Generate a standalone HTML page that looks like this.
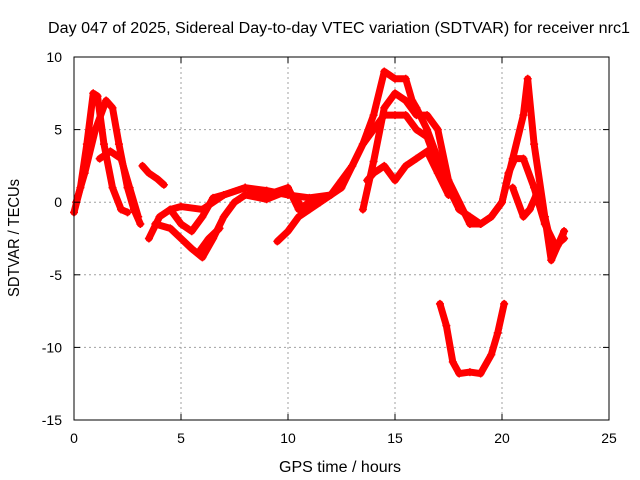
<!DOCTYPE html>
<html><head><meta charset="utf-8"><style>
body{margin:0;background:#fff}
svg{display:block;font-family:"Liberation Sans",sans-serif}
</style></head><body>
<svg id="chart" width="640" height="480">
<rect width="640" height="480" fill="#fff"/>
<g id="grid"></g><g id="series"></g><g id="axes"></g>
<text x="339" y="33" font-size="15.5" text-anchor="middle" textLength="582" lengthAdjust="spacingAndGlyphs">Day 047 of 2025, Sidereal Day-to-day VTEC variation (SDTVAR) for receiver nrc1</text>
<text x="340" y="472" font-size="15.5" text-anchor="middle" textLength="122" lengthAdjust="spacingAndGlyphs">GPS time / hours</text>
<text transform="translate(19,238) rotate(-90)" font-size="15.5" text-anchor="middle" textLength="118" lengthAdjust="spacingAndGlyphs">SDTVAR / TECUs</text>
</svg>
<script>
const xTicks=[0,5,10,15,20,25];
const yTicks=[10,5,0,-5,-10,-15];
const trackA=[[0,-0.7],[0.3,1],[0.6,4],[0.9,7.5],[1.1,7.3],[1.4,4],[1.8,1],[2.2,-0.5],[2.5,-0.7]];
const trackB=[[0.1,0],[0.5,2],[1,5],[1.5,7],[1.8,6.5],[2.1,4],[2.5,1],[2.8,-0.5],[3.1,-1.5]];
const trackC=[[1.2,3],[1.7,3.5],[2.2,3],[2.6,1],[3,-1]];
const trackC2=[[3.2,2.5],[3.5,2],[3.9,1.6],[4.2,1.2]];
const trackD=[[3.5,-2.5],[4,-1],[4.5,-0.5],[5,-0.3],[6,-0.5],[7,0.5],[8,1],[9,0.8],[10,0.5],[11,0.3],[12,0.5]];
const trackE=[[3.8,-1.5],[4.5,-1.8],[5,-2.5],[5.5,-3.2],[6,-3.8],[6.5,-2.5],[7,-1],[7.5,0],[8,0.5],[9,0.2],[10,0.8],[10.5,0]];
const trackE2=[[5.8,-3.5],[6.3,-2.5],[6.8,-1.8]];
const trackF=[[4.5,-0.5],[5,-1.5],[5.5,-2],[6,-1],[6.5,0.3],[7,0.5],[8,1],[9,0.5],[10,1],[10.5,-0.5],[11,0],[12,0.5],[12.5,1],[13,2.5],[13.5,4],[14,6],[14.5,9],[15,8.5],[15.5,8.5],[15.8,7],[16,6.5],[16.5,5],[17,3],[17.5,1.5],[18,0],[18.5,-1.5],[19,-1.5],[19.5,-1],[20,0],[20.5,3],[21,6],[21.2,8.5],[21.5,4],[22,-1],[22.3,-4],[22.6,-3],[22.9,-2]];
const trackG=[[9.5,-2.7],[10,-2],[10.5,-1],[11,-0.5],[11.5,0],[12,0.5],[12.5,1.5],[13,2.5],[13.5,4],[14,5],[14.5,6],[15,6],[15.5,6],[16,5],[16.5,4.5],[17,2.5],[17.5,1],[18,-0.5],[18.5,-1],[19,-1.5],[19.5,-1],[20,0],[20.3,2],[20.6,3],[21,3],[21.5,1],[22,-1.5],[22.5,-3],[22.9,-2.5]];
const trackH=[[13.7,1.5],[14,2],[14.5,2.5],[15,1.5],[15.5,2.5],[16,3],[16.5,3.5],[17,2],[17.5,0.5]];
const trackI=[[13.5,-0.5],[14,2.8],[14.5,6.5],[15,7.5],[15.5,7],[16,6],[16.5,6],[17,5],[17.5,1.5],[18,-0.5]];
const trackJ=[[17.1,-7],[17.4,-8.5],[17.7,-11],[18,-11.8],[18.5,-11.7],[19,-11.8],[19.5,-10.5],[19.8,-9],[20.1,-7]];
const trackK=[[20.5,1],[21,-1],[21.3,-0.5],[21.6,0.5],[22,-1],[22.4,-3.5],[22.8,-2.5],[22.9,-2]];
const tracks=[trackA,trackB,trackC,trackC2,trackD,trackE,trackE2,trackF,trackG,trackH,trackI,trackJ,trackK];
const X=v=>74+v*(609-74)/25, Y=v=>57+(10-v)*(420-57)/25;
const NS='http://www.w3.org/2000/svg';
const mk=(t,a,p)=>{const e=document.createElementNS(NS,t);for(const k in a)e.setAttribute(k,a[k]);p.appendChild(e);return e;};
const grid=document.getElementById('grid'),axes=document.getElementById('axes'),ser=document.getElementById('series');
xTicks.forEach(t=>{
 if(t>0&&t<25){const l=mk('line',{x1:X(t),x2:X(t),y1:57,y2:420,stroke:'#a0a0a0','stroke-dasharray':'2,3'},grid);
 
 }
 const tx=mk('text',{x:X(t),y:443,'font-size':14,'text-anchor':'middle'},axes);tx.textContent=t;
 
 
 mk('line',{x1:X(t),x2:X(t),y1:420,y2:414,stroke:'#000'},axes);mk('line',{x1:X(t),x2:X(t),y1:57,y2:63,stroke:'#000'},axes);
});
yTicks.forEach(t=>{
 if(t<10&&t>-15){const l=mk('line',{x1:74,x2:609,y1:Y(t),y2:Y(t),stroke:'#a0a0a0','stroke-dasharray':'2,3'},grid);
 
 }
 const tx=mk('text',{x:62,y:Y(t)+5,'font-size':14,'text-anchor':'end'},axes);tx.textContent=t;
 
 
 mk('line',{x1:74,x2:80,y1:Y(t),y2:Y(t),stroke:'#000'},axes);mk('line',{x1:609,x2:603,y1:Y(t),y2:Y(t),stroke:'#000'},axes);
});
const fr=mk('rect',{x:74,y:57,width:535,height:363,fill:'none',stroke:'#000'},axes);


tracks.forEach(tr=>{
 const p=mk('path',{d:tr.map((q,i)=>(i?'L':'M')+X(q[0])+','+Y(q[1])).join(''),fill:'none',stroke:'#f00','stroke-width':7,'stroke-linejoin':'round','stroke-linecap':'round'},ser);
 
 
 tr.forEach(q=>{const m=mk('path',{d:`M${X(q[0])-4},${Y(q[1])}h8M${X(q[0])},${Y(q[1])-4}v8`,stroke:'#f00','stroke-width':1.5},ser);
 
 });
});
</script>
</body></html>
